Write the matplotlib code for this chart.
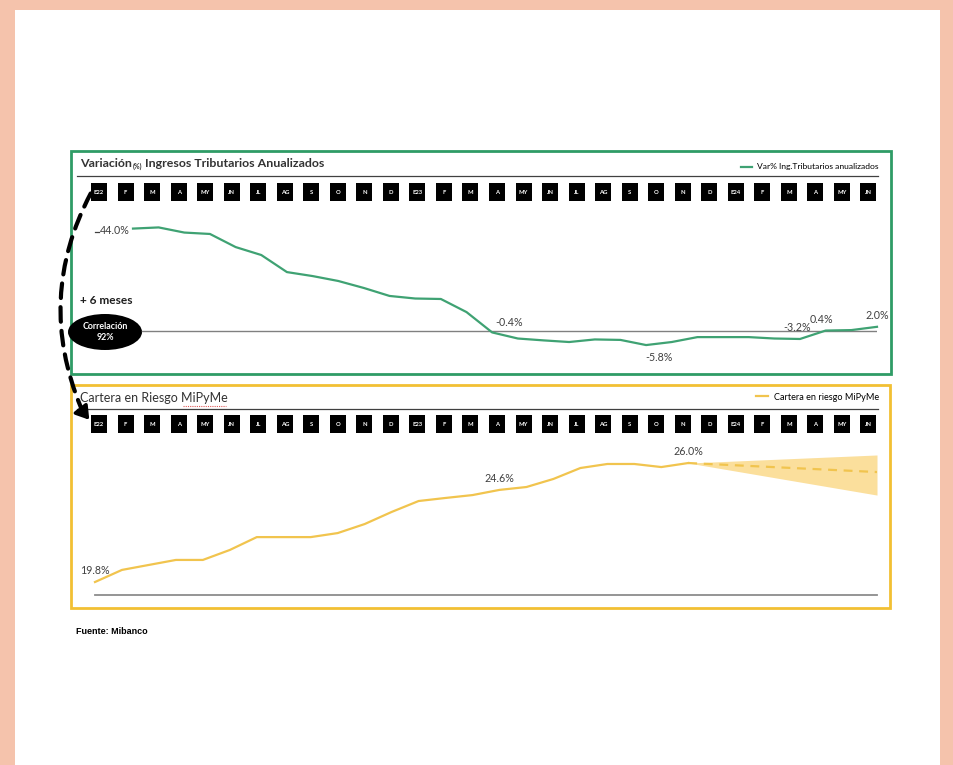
import matplotlib
matplotlib.use("Agg")
import matplotlib.pyplot as plt
from matplotlib.patches import Rectangle, Ellipse, FancyArrowPatch
from matplotlib.path import Path

# ---- data -------------------------------------------------------------
months = ["E22", "F", "M", "A", "MY", "JN", "JL", "AG", "S", "O", "N", "D",
          "E23", "F", "M", "A", "MY", "JN", "JL", "AG", "S", "O", "N", "D",
          "E24", "F", "M", "A", "MY", "JN"]

# annualised change in tax revenue (%)
tax_var = [44.0, 44.5, 42.3, 41.7, 36.1, 32.7, 25.4, 23.7, 21.6, 18.6,
           15.2, 14.1, 13.9, 8.3, -0.4, -3.0, -3.8, -4.5, -3.4, -3.6,
           -5.8, -4.5, -2.4, -2.4, -2.4, -3.0, -3.2, 0.4, 0.6, 2.0]
tax_labels = {0: "44.0%", 14: "-0.4%", 20: "-5.8%", 26: "-3.2%", 27: "0.4%", 29: "2.0%"}

# SME portfolio at risk (%), observed
risk = [19.8, 20.43, 20.69, 20.95, 20.95, 21.47, 22.14, 22.14, 22.14, 22.35,
        22.82, 23.45, 24.02, 24.18, 24.33, 24.6, 24.75, 25.17, 25.74, 25.95,
        25.95, 25.79, 26.0]
risk_labels = {0: "19.8%", 15: "24.6%", 22: "26.0%"}

# projection: start/end of the central path and of the band
proj_x = [22, 29]
proj_mid = [26.0, 25.53]
proj_hi = [26.0, 26.42]
proj_lo = [26.0, 24.33]

# ---- styling ----------------------------------------------------------
W, H = 954, 765
PEACH = "#F5C3AC"
GREEN = "#2F9C66"
GREEN_LINE = "#3FA273"
YELLOW = "#F2C033"
YELLOW_LINE = "#F1C44E"
FAN = "#FBDF9C"
LABEL = "#404040"
SANS = ["Lato", "DejaVu Sans"]

plt.rcParams["font.family"] = SANS

fig = plt.figure(figsize=(W / 100, H / 100), dpi=100, facecolor=PEACH)


def px_axes(x0, y0, x1, y1):
    ax = fig.add_axes([x0 / W, 1 - y1 / H, (x1 - x0) / W, (y1 - y0) / H])
    ax.patch.set_visible(False)
    return ax


# background layer in pixel units
ov = fig.add_axes([0, 0, 1, 1])
ov.set_xlim(0, W)
ov.set_ylim(H, 0)
ov.axis("off")
ov.add_patch(Rectangle((15, 10), 925, 760, fc="white", ec="none", zorder=0))

# panel frames
ov.add_patch(Rectangle((71, 151), 820, 223, fill=False, ec=GREEN, lw=2.0, zorder=2))
ov.add_patch(Rectangle((71, 385), 819, 223, fill=False, ec=YELLOW, lw=2.0, zorder=2))

# panel titles
t1 = ov.text(80, 163, "Variación", fontsize=8.9, fontweight="bold",
             color="#333333", va="center", ha="left")
t1b = ov.annotate("(%)", xy=(1, 0.05), xycoords=t1, xytext=(0.5, -1.5),
                  textcoords="offset points", fontsize=5, fontweight="bold",
                  color="#333333", ha="left", va="bottom")
ov.annotate(" Ingresos Tributarios Anualizados", xy=(1, 0.5), xycoords=(t1b, t1),
            fontsize=8.9, fontweight="bold", color="#333333", ha="left", va="center")
ov.plot([77, 878], [176, 176], color="#404040", lw=0.9, zorder=2)

ov.text(80, 398, "Cartera en Riesgo MiPyMe", fontsize=9, color="#333333",
        va="center", ha="left")
ov.plot([183, 226], [405.5, 405.5], color="#E05A5A", lw=0.8, ls=(0, (1, 1)))
ov.plot([77, 878], [409, 409], color="#404040", lw=0.9, zorder=2)

# dashed lead arrow between the two panels
ov.add_patch(FancyArrowPatch(posA=(92, 191), posB=(82, 410),
                             connectionstyle="arc3,rad=0.24", arrowstyle="-",
                             linestyle=(0, (3.5, 2.2)), lw=3.0, color="black",
                             zorder=3))
ov.add_patch(FancyArrowPatch(posA=(80, 408), posB=(91, 422),
                             arrowstyle="-|>,head_length=0.55,head_width=0.35",
                             mutation_scale=14, lw=2.5, color="black", zorder=3))

# correlation note
ov.text(80, 300, "+ 6 meses", fontsize=8.6, fontweight="bold", color="#1E1E1E",
        va="center", ha="left")
ov.add_patch(Ellipse((105, 332), 74, 36, fc="black", ec="none", zorder=4))
ov.text(105, 332, "Correlación\n92%", fontsize=6.4, fontweight="bold", color="white",
        ha="center", va="center", linespacing=1.4, zorder=5)

ov.text(76, 632, "Fuente: Mibanco", fontsize=6.5, fontweight="bold",
        family=["Liberation Sans", "DejaVu Sans"], color="black", va="center")

# month strips
box = Path([(-0.45, -0.5), (0.45, -0.5), (0.45, 0.5), (-0.45, 0.5), (-0.45, -0.5)],
           closed=True)
for y0 in (183, 415):
    sx = px_axes(99, y0, 868.5, y0 + 18)
    sx.set_xlim(0, len(months) - 1)
    sx.set_ylim(0, 1)
    sx.axis("off")
    idx = list(range(len(months)))
    sx.scatter(idx, [0.5] * len(months), marker=box, s=175, c="black",
               linewidths=0, clip_on=False)
    for i, m in zip(idx, months):
        sx.text(i, 0.5, m, color="white", fontsize=4.2, fontweight="bold",
                ha="center", va="center", clip_on=False)

# ---- top panel: tax revenue -------------------------------------------
ax1 = px_axes(133, 215, 877, 355)
ax1.set_xlim(0, len(tax_var) - 1)
ax1.set_ylim(-10.05, 49.81)
ax1.axis("off")
ax1.axhline(0, xmin=9 / 744, xmax=1, color="#808080", lw=1.0)
ax1.plot(range(len(tax_var)), tax_var, color=GREEN_LINE, lw=1.6,
         solid_joinstyle="round", clip_on=False,
         label="Var% Ing.Tributarios anualizados")
offsets = {0: (-2, -1.5, "right", "center"), 14: (2, 7, "left", "center"),
           20: (9, -9, "center", "center"), 26: (-2, 8, "center", "center"),
           27: (-3, 8, "center", "center"), 29: (0, 8, "center", "center")}
for i, txt in tax_labels.items():
    dx, dy, ha, va = offsets[i]
    ax1.annotate(txt, (i, tax_var[i]), xytext=(dx, dy), textcoords="offset points",
                 ha=ha, va=va, fontsize=7.7, color=LABEL)
ax1.plot([-1.5, -1.33], [42.7, 42.7], color=LABEL, lw=0.9, clip_on=False)
ax1.legend(loc="center right", bbox_to_anchor=(879 / W, 1 - 167 / H),
           bbox_transform=fig.transFigure, frameon=False, fontsize=6.1,
           handlelength=1.3, handletextpad=0.6, borderpad=0, borderaxespad=0)

# ---- bottom panel: portfolio at risk ----------------------------------
ax2 = px_axes(95, 440, 877, 595)
ax2.set_xlim(0, len(months) - 1)
ax2.set_ylim(19.123, 27.20)
for s in ("top", "left", "right"):
    ax2.spines[s].set_visible(False)
ax2.spines["bottom"].set_color("#8C8C8C")
ax2.spines["bottom"].set_linewidth(1.3)
ax2.set_xticks([])
ax2.set_yticks([])
ax2.fill_between(proj_x, proj_lo, proj_hi, color=FAN, lw=0)
ax2.plot(range(len(risk)), risk, color=YELLOW_LINE, lw=1.6,
         solid_joinstyle="round", clip_on=False, label="Cartera en riesgo MiPyMe")
ax2.plot(proj_x, proj_mid, color=YELLOW_LINE, lw=1.6, ls=(0, (4, 3)))
for i, txt in risk_labels.items():
    ax2.annotate(txt, (i, risk[i]), xytext=(0, 8.5), textcoords="offset points",
                 ha="center", va="center", fontsize=7.7, color=LABEL)
ax2.legend(loc="center right", bbox_to_anchor=(879 / W, 1 - 397 / H),
           bbox_transform=fig.transFigure, frameon=False, fontsize=6.6,
           handlelength=1.3, handletextpad=0.6, borderpad=0, borderaxespad=0)

fig.savefig("out.png", dpi=100, facecolor=PEACH)
